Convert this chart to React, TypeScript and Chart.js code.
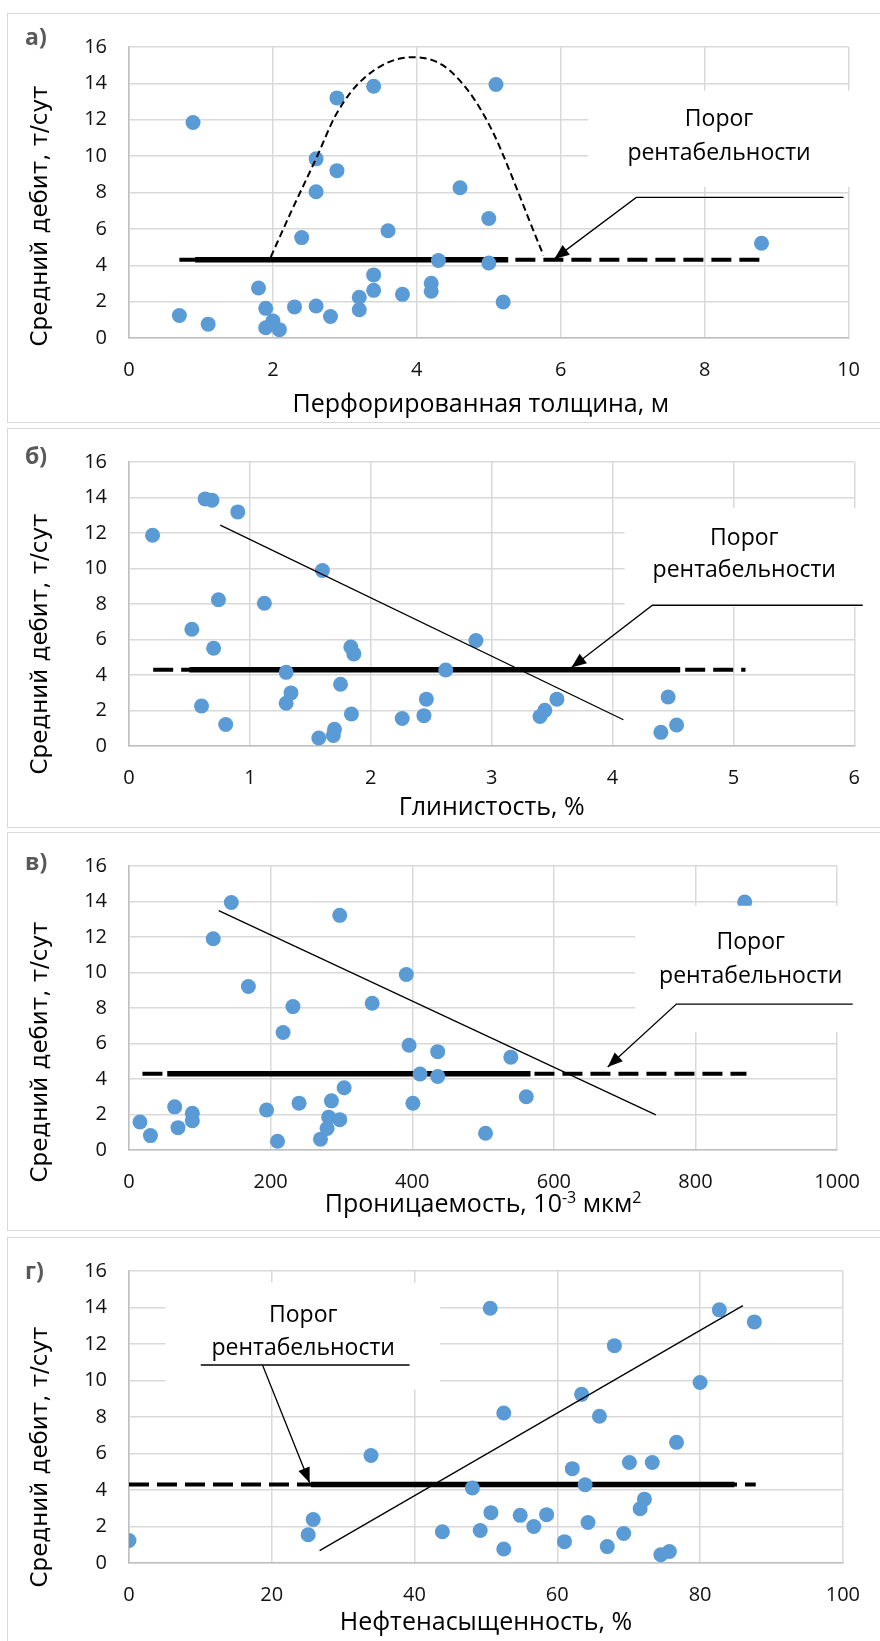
import React, { useEffect, useRef } from 'react';
import { Chart, registerables } from 'chart.js';

Chart.register(...registerables);

// ---------- data ----------
const THRESHOLD = 4.3;

// а) Перфорированная толщина, м
const thicknessX = [0.70, 0.89, 1.10, 1.80, 1.90, 1.90, 2.00, 2.09, 2.30, 2.40, 2.60, 2.60, 2.60, 2.80, 2.89, 2.89, 3.20, 3.20, 3.40, 3.40, 3.40, 3.60, 3.80, 4.20, 4.20, 4.30, 4.60, 5.00, 5.00, 5.10, 5.20, 8.79];
const thicknessRate = [1.24, 11.85, 0.76, 2.75, 1.63, 0.56, 0.94, 0.46, 1.71, 5.52, 9.85, 8.04, 1.76, 1.18, 13.2, 9.2, 2.24, 1.55, 13.84, 3.47, 2.62, 5.9, 2.40, 3.01, 2.57, 4.26, 8.26, 6.57, 4.12, 13.94, 1.98, 5.21];
const domeX = [1.97, 2.26, 2.61, 2.88, 3.27, 3.93, 4.36, 4.75, 5.06, 5.33, 5.56, 5.76];
const domeY = [4.45, 7.0, 9.95, 12.3, 14.3, 15.44, 15.0, 13.4, 11.3, 8.8, 6.5, 4.54];
const calloutAX = [5.91, 7.05, 9.93];
const calloutAY = [4.35, 7.73, 7.73];

// б) Глинистость, %
const clayX = [0.195, 0.52, 0.60, 0.63, 0.686, 0.70, 0.74, 0.80, 0.90, 1.12, 1.30, 1.30, 1.34, 1.57, 1.60, 1.69, 1.70, 1.75, 1.835, 1.84, 1.86, 2.26, 2.44, 2.46, 2.62, 2.87, 3.40, 3.44, 3.54, 4.40, 4.46, 4.53];
const clayRate = [11.87, 6.58, 2.25, 13.92, 13.85, 5.51, 8.24, 1.21, 13.19, 8.04, 4.15, 2.41, 2.99, 0.45, 9.89, 0.59, 0.94, 3.48, 5.58, 1.80, 5.19, 1.55, 1.71, 2.64, 4.28, 5.94, 1.66, 2.01, 2.64, 0.77, 2.76, 1.18];
const clayTrendX = [0.755, 4.09];
const clayTrendY = [12.44, 1.48];
const calloutBX = [3.66, 4.33, 6.07];
const calloutBY = [4.42, 7.93, 7.93];

// в) Проницаемость, 10^-3 мкм^2
const permX = [15.5, 30.3, 64.5, 69.2, 89.4, 89.4, 118.9, 144.5, 168.6, 194.3, 209.8, 217.6, 231.5, 240.1, 270.4, 279.7, 282.0, 285.9, 297.6, 297.6, 303.8, 343.4, 391.6, 395.5, 400.9, 411.0, 435.9, 435.9, 503.5, 539.2, 561.0, 869.5];
const permRate = [1.58, 0.81, 2.43, 1.26, 2.07, 1.65, 11.9, 13.94, 9.21, 2.25, 0.49, 6.62, 8.08, 2.64, 0.61, 1.21, 1.85, 2.77, 13.22, 1.71, 3.51, 8.27, 9.89, 5.90, 2.63, 4.28, 5.54, 4.14, 0.94, 5.23, 3.00, 13.97];
const permTrendX = [126.7, 744];
const permTrendY = [13.49, 1.98];
const calloutCX = [676, 773, 1022];
const calloutCY = [4.68, 8.22, 8.22];

// г) Нефтенасыщенность, %
const satX = [0, 25.1, 25.8, 33.9, 43.9, 48.1, 49.2, 50.6, 50.7, 52.5, 52.5, 54.8, 56.7, 58.5, 61.0, 62.1, 63.4, 63.9, 64.3, 65.9, 67.0, 68.0, 69.3, 70.1, 71.6, 72.2, 73.3, 74.5, 75.7, 76.7, 80.0, 82.7, 87.6];
const satRate = [1.23, 1.55, 2.38, 5.89, 1.71, 4.11, 1.78, 13.96, 2.76, 8.22, 0.77, 2.61, 2.0, 2.65, 1.17, 5.17, 9.24, 4.29, 2.22, 8.04, 0.90, 11.91, 1.62, 5.51, 2.97, 3.50, 5.51, 0.45, 0.63, 6.61, 9.89, 13.87, 13.21];
const satTrendX = [26.7, 86.0];
const satTrendY = [0.68, 14.1];
const calloutDX = [25.3, 18.7];
const calloutDY = [4.4, 10.85];
const underlineDX = [10.05, 39.3];
const underlineDY = [10.85, 10.85];

const Y_TITLE = 'Средний дебит, т/сут';
const NOTE_LINES = ['Порог', 'рентабельности'];

// ---------- styling ----------
const PAGE_W = 880;
const Y_AXIS_W = 60;
const SANS = "'Open Sans', sans-serif";
const POINT_COLOR = '#5b9bd5';
const GRID_COLOR = '#d9d9d9';

type Part = { t: string; sup?: boolean };
type LineSpec = { xs: number[]; ys: number[]; dash?: number[]; width: number; smooth?: boolean; arrow?: boolean; noClip?: boolean };

interface PanelCfg {
  label: string;
  top: number;
  bottom: number;
  area: { left: number; right: number; top: number; bottom: number };
  xMax: number;
  xStep: number;
  xs: number[];
  ys: number[];
  xTitle: Part[];
  xTitleBase: number;
  xTitleDx: number;
  yTitleCy: number;
  labelCy: number;
  dashed: number[];
  solid: number[];
  lines: LineSpec[];
  box: { x0: number; x1: number; y0: number; y1: number };
  note: { x: number; y: number[] };
}

const panels: PanelCfg[] = [
  {
    label: 'а)', top: 13, bottom: 423,
    area: { left: 129, right: 850, top: 38, bottom: 338 },
    xMax: 10, xStep: 2, xs: thicknessX, ys: thicknessRate,
    xTitle: [{ t: 'Перфорированная толщина, м' }], xTitleBase: 412, xTitleDx: -8,
    yTitleCy: 216, labelCy: 38,
    dashed: [0.7, 8.8], solid: [0.92, 5.27],
    lines: [
      { xs: domeX, ys: domeY, dash: [7, 4], width: 2, smooth: true },
      { xs: calloutAX, ys: calloutAY, width: 1.3, arrow: true, noClip: true },
    ],
    box: { x0: 6.38, x1: 10.05, y0: 8.32, y1: 13.6 },
    note: { x: 8.2, y: [12.0, 10.13] },
  },
  {
    label: 'б)', top: 428, bottom: 828,
    area: { left: 129, right: 856, top: 447, bottom: 746 },
    xMax: 6, xStep: 1, xs: clayX, ys: clayRate,
    xTitle: [{ t: 'Глинистость, %' }], xTitleBase: 815, xTitleDx: 0,
    yTitleCy: 644, labelCy: 457,
    dashed: [0.2, 5.1], solid: [0.5, 4.56],
    lines: [
      { xs: clayTrendX, ys: clayTrendY, width: 1.3 },
      { xs: calloutBX, ys: calloutBY, width: 1.3, arrow: true, noClip: true },
    ],
    box: { x0: 4.1, x1: 6.05, y0: 7.85, y1: 13.4 },
    note: { x: 5.09, y: [11.72, 9.9] },
  },
  {
    label: 'в)', top: 832, bottom: 1231,
    area: { left: 129, right: 851, top: 853, bottom: 1150 },
    xMax: 1000, xStep: 200, xs: permX, ys: permRate,
    xTitle: [{ t: 'Проницаемость, 10' }, { t: '-3', sup: true }, { t: ' мкм' }, { t: '2', sup: true }],
    xTitleBase: 1212, xTitleDx: 0,
    yTitleCy: 1052, labelCy: 863,
    dashed: [19, 872], solid: [54, 567],
    lines: [
      { xs: permTrendX, ys: permTrendY, width: 1.3 },
      { xs: calloutCX, ys: calloutCY, width: 1.3, arrow: true, noClip: true },
    ],
    box: { x0: 715, x1: 1005, y0: 6.65, y1: 13.76 },
    note: { x: 878, y: [11.69, 9.75] },
  },
  {
    label: 'г)', top: 1237, bottom: 1700,
    area: { left: 129, right: 843, top: 1267, bottom: 1563 },
    xMax: 100, xStep: 20, xs: satX, ys: satRate,
    xTitle: [{ t: 'Нефтенасыщенность, %' }], xTitleBase: 1630, xTitleDx: 0,
    yTitleCy: 1457, labelCy: 1272,
    dashed: [0, 87.8], solid: [25.5, 84.8],
    lines: [
      { xs: satTrendX, ys: satTrendY, width: 1.3 },
      { xs: underlineDX, ys: underlineDY, width: 1.3, noClip: true },
      { xs: calloutDX, ys: calloutDY, width: 1.3, arrow: true, noClip: true },
    ],
    box: { x0: 5.1, x1: 43.6, y0: 9.5, y1: 15.37 },
    note: { x: 24.4, y: [13.57, 11.78] },
  },
];

const SCATTER_INDEX = 2;

function pts(xs: number[], ys: number[]) {
  return xs.map((x, i) => ({ x, y: ys[i] }));
}

function drawParts(ctx: CanvasRenderingContext2D, parts: Part[], cx: number, base: number, size: number) {
  const supSize = Math.round(size * 0.62);
  const widths = parts.map((p) => {
    ctx.font = `${p.sup ? supSize : size}px ${SANS}`;
    return ctx.measureText(p.t).width;
  });
  const total = widths.reduce((a, b) => a + b, 0);
  let x = cx - total / 2;
  ctx.textAlign = 'left';
  ctx.textBaseline = 'alphabetic';
  parts.forEach((p, i) => {
    ctx.font = `${p.sup ? supSize : size}px ${SANS}`;
    ctx.fillText(p.t, x, p.sup ? base - size * 0.36 : base);
    x += widths[i];
  });
}

function makeChart(canvas: HTMLCanvasElement, cfg: PanelCfg) {
  const h = cfg.bottom - cfg.top;
  const areaTop = cfg.area.top - cfg.top;
  const areaBottom = cfg.area.bottom - cfg.top;
  const xAxisH = h - areaBottom;

  const datasets: any[] = [
    {
      data: pts(cfg.dashed, [THRESHOLD, THRESHOLD]), showLine: true, borderColor: '#000', borderWidth: 4,
      borderDash: [20, 8], pointRadius: 0, order: 40,
    },
    {
      data: pts(cfg.solid, [THRESHOLD, THRESHOLD]), showLine: true, borderColor: '#000', borderWidth: 5.5,
      pointRadius: 0, order: 39,
    },
    {
      data: pts(cfg.xs, cfg.ys), showLine: false, pointRadius: 7.5, pointBackgroundColor: POINT_COLOR,
      backgroundColor: POINT_COLOR, pointBorderWidth: 0, borderWidth: 0, order: 30,
    },
    ...cfg.lines.map((l, i) => ({
      data: pts(l.xs, l.ys), showLine: true, borderColor: '#000', borderWidth: l.width,
      borderDash: l.dash || [], pointRadius: 0, order: 20 - i,
      tension: l.smooth ? 0.4 : 0, cubicInterpolationMode: l.smooth ? 'monotone' : 'default',
      clip: l.noClip ? false : undefined,
    })),
  ];

  const decor = {
    id: 'decor',
    afterDatasetDraw(chart: any, args: any) {
      if (args.index !== SCATTER_INDEX) return;
      const { ctx, scales } = chart;
      const xs = scales.x, ys = scales.y;
      const bx0 = xs.getPixelForValue(cfg.box.x0), bx1 = xs.getPixelForValue(cfg.box.x1);
      const by0 = ys.getPixelForValue(cfg.box.y1), by1 = ys.getPixelForValue(cfg.box.y0);
      ctx.save();
      ctx.fillStyle = '#fff';
      ctx.fillRect(bx0, by0, bx1 - bx0, by1 - by0);
      ctx.fillStyle = '#000';
      ctx.font = `23px ${SANS}`;
      ctx.textAlign = 'center';
      ctx.textBaseline = 'middle';
      NOTE_LINES.forEach((t, i) => {
        ctx.fillText(t, xs.getPixelForValue(cfg.note.x), ys.getPixelForValue(cfg.note.y[i]));
      });
      ctx.restore();
    },
    afterDatasetsDraw(chart: any) {
      const { ctx, scales } = chart;
      ctx.save();
      ctx.fillStyle = '#000';
      cfg.lines.filter((l) => l.arrow).forEach((l) => {
        const tx = scales.x.getPixelForValue(l.xs[0]);
        const ty = scales.y.getPixelForValue(l.ys[0]);
        const fx = scales.x.getPixelForValue(l.xs[1]);
        const fy = scales.y.getPixelForValue(l.ys[1]);
        const ang = Math.atan2(ty - fy, tx - fx);
        const len = 15, hw = 6;
        const bx = tx - len * Math.cos(ang), by = ty - len * Math.sin(ang);
        ctx.beginPath();
        ctx.moveTo(tx, ty);
        ctx.lineTo(bx + hw * Math.sin(ang), by - hw * Math.cos(ang));
        ctx.lineTo(bx - hw * Math.sin(ang), by + hw * Math.cos(ang));
        ctx.closePath();
        ctx.fill();
      });
      ctx.restore();
    },
    afterDraw(chart: any) {
      const { ctx, chartArea } = chart;
      ctx.save();
      ctx.fillStyle = '#000';
      drawParts(ctx, cfg.xTitle, (chartArea.left + chartArea.right) / 2 + cfg.xTitleDx, cfg.xTitleBase - cfg.top, 25);
      ctx.translate(41, cfg.yTitleCy - cfg.top);
      ctx.rotate(-Math.PI / 2);
      ctx.font = "23px 'DejaVu Sans', sans-serif";
      ctx.textAlign = 'center';
      ctx.textBaseline = 'middle';
      ctx.fillText(Y_TITLE, 0, 0);
      ctx.restore();
      ctx.save();
      ctx.fillStyle = '#595959';
      ctx.font = `bold 23px ${SANS}`;
      ctx.textAlign = 'left';
      ctx.textBaseline = 'middle';
      ctx.fillText(cfg.label, 25, cfg.labelCy - cfg.top);
      ctx.restore();
    },
  };

  const tickFont = { family: SANS, size: 20 };
  return new Chart(canvas, {
    type: 'scatter',
    data: { datasets },
    options: {
      responsive: false,
      animation: false,
      devicePixelRatio: 1,
      layout: { padding: { left: cfg.area.left - Y_AXIS_W, top: areaTop, right: PAGE_W - cfg.area.right, bottom: 0 } },
      plugins: { legend: { display: false }, tooltip: { enabled: false }, title: { display: false } },
      events: [],
      scales: {
        x: {
          type: 'linear', position: 'bottom', min: 0, max: cfg.xMax,
          ticks: {
            stepSize: cfg.xStep, padding: 20, font: tickFont, color: '#111', maxRotation: 0, autoSkip: false,
            callback: (v: any) => String(v),
          },
          grid: { color: GRID_COLOR, lineWidth: 1.5, drawTicks: false },
          border: { color: '#bfbfbf', width: 1.5 },
          afterFit: (s: any) => { s.height = xAxisH; },
        },
        y: {
          type: 'linear', position: 'left', min: 0, max: 16,
          ticks: { stepSize: 2, padding: 22, font: tickFont, color: '#111', callback: (v: any) => String(v) },
          grid: { color: GRID_COLOR, lineWidth: 1.5, drawTicks: false },
          border: { color: '#bfbfbf', width: 1.5 },
          afterFit: (s: any) => { s.width = Y_AXIS_W; },
        },
      },
    } as any,
    plugins: [decor],
  });
}

function Panel({ cfg }: { cfg: PanelCfg }) {
  const ref = useRef<HTMLCanvasElement>(null);
  const h = cfg.bottom - cfg.top;
  useEffect(() => {
    const chart = makeChart(ref.current!, cfg);
    return () => chart.destroy();
  }, []);
  return (
    <div style={{ position: 'absolute', left: 0, top: cfg.top, width: PAGE_W, height: h }}>
      <div style={{ position: 'absolute', left: 7, top: 0, width: 920, height: h, border: '1.5px solid #d9d9d9', boxSizing: 'border-box' }} />
      <canvas ref={ref} width={PAGE_W} height={h} style={{ position: 'absolute', left: 0, top: 0, width: PAGE_W, height: h }} />
    </div>
  );
}

export default function App() {
  return (
    <div style={{ position: 'absolute', left: 0, top: 0, width: PAGE_W, height: 1641, overflow: 'hidden', background: '#fff' }}>
      {panels.map((p) => (
        <Panel key={p.label} cfg={p} />
      ))}
    </div>
  );
}
